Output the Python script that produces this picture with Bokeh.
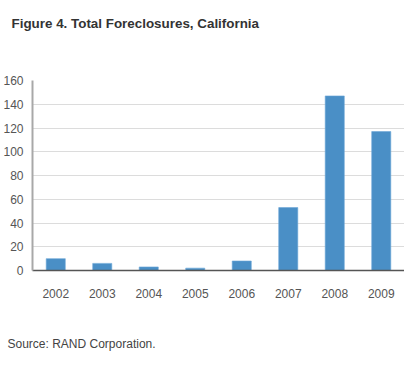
from bokeh.plotting import figure
from bokeh.models import Title, Range1d, FactorRange
from bokeh.embed import file_html
from bokeh.resources import INLINE

years = ["2002", "2003", "2004", "2005", "2006", "2007", "2008", "2009"]
foreclosures = [10, 6, 3, 2, 8, 53, 147, 117]
y_ticks = [0, 20, 40, 60, 80, 100, 120, 140, 160]

title_text = "Figure 4. Total Foreclosures, California"
source_text = "Source: RAND Corporation."

FONT = "Liberation Sans"

p = figure(width=404, height=352, x_range=FactorRange(*years), y_range=Range1d(0, 160),
           output_backend="svg", toolbar_location=None,
           min_border_left=19, min_border_right=0, min_border_top=80, min_border_bottom=82)
p.outline_line_color = None
p.background_fill_color = "white"
p.border_fill_color = "white"

p.vbar(x=years, top=foreclosures, width=0.41, fill_color="#4a8fc6", line_color="#6aa6d6", line_width=0.6)

p.x_range.range_padding = 0
p.xgrid.grid_line_color = None
p.ygrid.grid_line_color = "#dcdcdc"
p.ygrid.grid_line_width = 1.2
p.yaxis.ticker = y_ticks

p.yaxis.axis_line_color = "#a8a8a8"
p.yaxis.axis_line_width = 2
p.yaxis.major_tick_line_color = None
p.yaxis.minor_tick_line_color = None
p.yaxis.major_label_standoff = 3
p.yaxis.major_label_text_font = FONT
p.yaxis.major_label_text_font_size = "12px"
p.yaxis.major_label_text_color = "#555555"

p.xaxis.axis_line_color = "#555555"
p.xaxis.axis_line_width = 1.5
p.xaxis.major_tick_line_color = None
p.xaxis.minor_tick_line_color = None
p.xaxis.major_label_standoff = 12
p.xaxis.major_label_text_font = FONT
p.xaxis.major_label_text_font_size = "12px"
p.xaxis.major_label_text_color = "#555555"

# spacer between frame and title (inner side of the "above" panel)
p.add_layout(Title(text=" ", standoff=45, text_font_size="1px", text_color="white"), "above")

p.title.text = title_text
p.title.align = "left"
p.title.vertical_align = "top"
p.title.offset = -21
p.title.standoff = 0
p.title.text_font = FONT
p.title.text_font_size = "13.4px"
p.title.text_font_style = "bold"
p.title.text_color = "#333333"

# spacer between x axis and source note
p.add_layout(Title(text=" ", standoff=31, text_font_size="1px", text_color="white"), "below")
p.add_layout(Title(text=source_text, align="left", vertical_align="bottom", offset=-25, standoff=0,
                   text_font=FONT, text_font_size="12px", text_font_style="normal",
                   text_color="#444444"), "below")

open("out.html", "w").write(file_html(p, INLINE))
